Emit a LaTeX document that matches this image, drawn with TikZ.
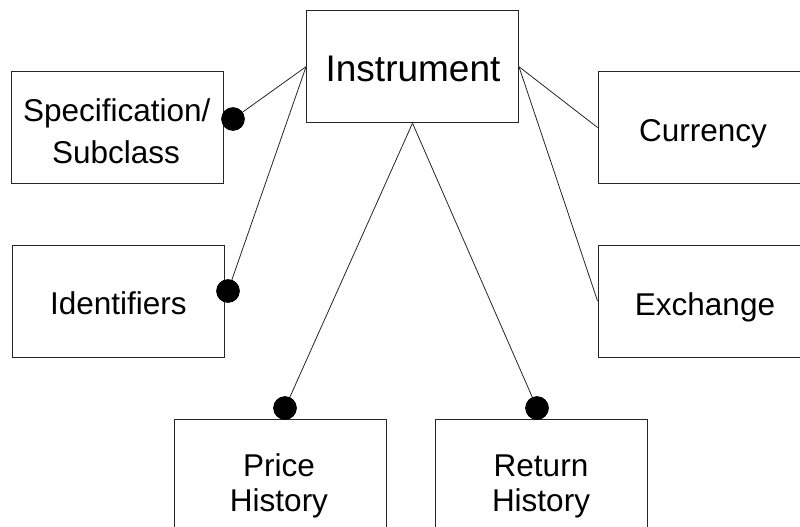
\documentclass[tikz,border=0pt]{standalone}
\usepackage{fontspec}
\setmainfont{Liberation Sans}
\begin{document}
\begin{tikzpicture}[x=1pt,y=-1pt,
  box/.style={draw=black!85, line width=0.9pt, minimum width=212pt, minimum height=112pt, inner sep=0pt, fill=white},
  dot/.style={circle, fill=black, minimum size=23.4pt, inner sep=0pt},
  conn/.style={draw=black!85, line width=0.8pt},
  lbl/.style={anchor=base, inner sep=0pt, font=\fontsize{31.5}{38}\selectfont},
  big/.style={anchor=base, inner sep=0pt, font=\fontsize{37}{44}\selectfont}]
\clip (0,0) rectangle (800,527);
\fill[white] (0,0) rectangle (800,527);
% boxes
\node[box] (inst)  at (412.5,66.7) {};
\node[box] (spec)  at (117,127.5) {};
\node[box] (ident) at (118.3,301) {};
\node[box] (curr)  at (704,127.5) {};
\node[box] (exch)  at (704,301) {};
\node[box] (price) at (280.5,475) {};
\node[box] (ret)   at (541.5,475) {};
% dots
\node[dot] (dspec)  at (233,119) {};
\node[dot] (dident) at (228,291) {};
\node[dot] (dprice) at (285,408) {};
\node[dot] (dret)   at (537,408) {};
% connectors
\draw[conn] (inst.west) -- (dspec.center);
\draw[conn] (inst.west) -- (dident.center);
\draw[conn] (inst.east) -- (curr.west);
\draw[conn] (inst.east) -- (exch.west);
\draw[conn] (inst.south) -- (dprice.center);
\draw[conn] (inst.south) -- (dret.center);
% redraw dots on top
\node[dot] at (dspec.center) {};
\node[dot] at (dident.center) {};
\node[dot] at (dprice.center) {};
\node[dot] at (dret.center) {};
% labels
\node[big] (tinst) at (413,81.7) {Instrument};
\node[lbl] (tspec1) at (116.7,121.7) {Specification/};
\node[lbl] (tspec2) at (116,163.3) {Subclass};
\node[lbl] (tident) at (118.3,314) {Identifiers};
\node[lbl] (tcurr) at (703,141.7) {Currency};
\node[lbl] (texch) at (705,315) {Exchange};
\node[lbl] (tprice1) at (279,476.7) {Price};
\node[lbl] (tprice2) at (279,511.7) {History};
\node[lbl] (tret1) at (541,476.7) {Return};
\node[lbl] (tret2) at (541,511.7) {History};
\end{tikzpicture}
\end{document}
